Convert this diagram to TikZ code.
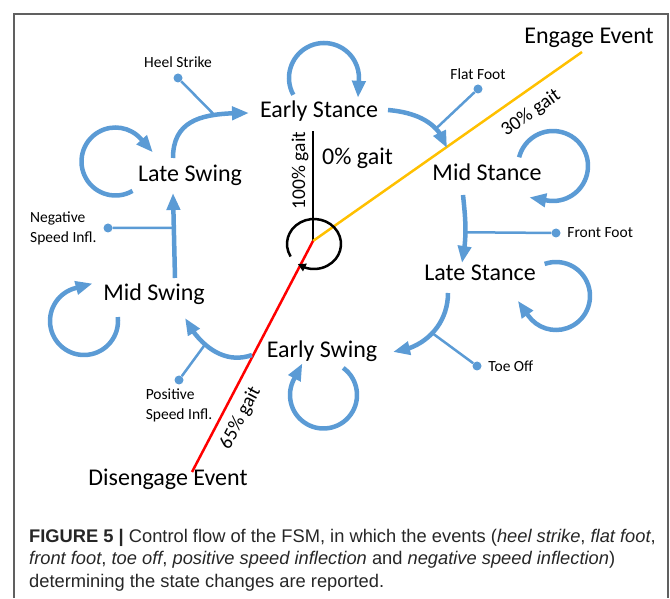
\documentclass[tikz,border=0pt]{standalone}
\usepackage{fontspec}
\setmainfont{Carlito}
\newfontfamily\captionfont{Liberation Sans}
\usetikzlibrary{arrows.meta,positioning,bending}
\definecolor{fsmblue}{HTML}{5B9BD5}
\definecolor{fsmyellow}{HTML}{FFC000}
\definecolor{fsmred}{HTML}{FF0000}
\definecolor{fsmframe}{HTML}{606060}
\definecolor{fsmcaption}{HTML}{262626}
\tikzset{
    state/.style={
        inner sep=0pt, anchor=base,
        font=\fontsize{24}{28}\selectfont
    },
    evlabel/.style={
        inner sep=2pt, align=left,
        font=\fontsize{15.5}{20}\selectfont
    },
    evdot/.style={circle, fill=fsmblue, inner sep=0pt, minimum size=9pt},
    evline/.style={draw=fsmblue, line width=2.5pt},
    trans/.style={draw=fsmblue, line width=4.5pt, -{Triangle[length=17pt,width=13pt]}},
    gaitline/.style={line width=2.5pt},
    gaitlabel/.style={sloped, text=black, font=\fontsize{19.5}{22}\selectfont},
    caption/.style={
        anchor=north west, inner sep=0pt, align=left, text=fsmcaption,
        font=\captionfont\fontsize{18.3}{22.5}\selectfont
    },
}

\begin{document}
\begin{tikzpicture}[x=1pt, y=1pt]
    \useasboundingbox (0,0) rectangle (670,598);

    % Frame
    \draw[fsmframe, line width=1.3pt] (14,0) -- (14,584) -- (668,584) -- (668,0);

    % States
    \node[state] (es)  at (319,480) {Early Stance};
    \node[state] (ms)  at (487,417) {Mid Stance};
    \node[state] (ls)  at (480,317) {Late Stance};
    \node[state] (esw) at (322,240) {Early Swing};
    \node[state] (msw) at (154,297) {Mid Swing};
    \node[state] (lsw) at (190,416) {Late Swing};

    % Gait cycle
    \coordinate (c) at (313,357);
    \coordinate (gtop) at (313,467);
    \coordinate (engage) at (582,546);
    \coordinate (disengage) at (192,126);
    \coordinate (gc) at (314,354);
    \draw[gaitline] (c) -- node[gaitlabel, above, pos=0.64] (g100) {100\% gait} (gtop);
    \draw[gaitline, fsmyellow] (c) -- node[gaitlabel, below=8pt, pos=0.766] (g30) {30\% gait} (engage);
    \draw[gaitline, fsmred] (disengage) -- node[gaitlabel, below=5pt, pos=0.27] (g65) {65\% gait} (c);
    \draw[gaitline, -{Triangle[length=8pt,width=8pt]}] ([shift={(210:27 and 25)}]gc)
        arc[start angle=210, end angle=-127, x radius=27, y radius=25];
    \node[state, anchor=base west] (g0) at (322,433) {0\% gait};
    \node[state] (engagelbl) at (589,554) {Engage Event};
    \node[state] (disengagelbl) at (168,113) {Disengage Event};

    % Transitions
    \draw[trans] ([shift={(-17,24)}]lsw.base) to[out=90, in=180, looseness=1.2]
        coordinate[pos=0.7] (hsjoin) ([shift={(-70,5)}]es.base);
    \draw[trans] ([shift={(69,8)}]es.base) to[out=-5, in=107]
        coordinate[pos=0.7] (ffjoin) ([shift={(-40,33)}]ms.base);
    \draw[trans] ([shift={(-24,-14)}]ms.base) to[out=-84, in=79]
        coordinate[pos=0.55] (frjoin) ([shift={(-18,18)}]ls.base);
    \draw[trans] ([shift={(-32,-12)}]ls.base) to[out=-90, in=6]
        coordinate[pos=0.5] (tojoin) ([shift={(71,6)}]esw.base);
    \draw[trans] ([shift={(-70,3)}]esw.base) to[out=200, in=-63]
        coordinate[pos=0.62] (psjoin) ([shift={(31,-17)}]msw.base);
    \draw[trans] ([shift={(21,23)}]msw.base) --
        coordinate[pos=0.59] (nsjoin) ([shift={(-17,-11)}]lsw.base);

    % Self loops
    \coordinate (esc) at ([shift={(5,40)}]es.base);
    \draw[trans] ([shift={(208.7:35)}]esc) arc[start angle=208.7, end angle=-3, radius=35] -- ++(-93:18);
    \coordinate (msc) at ([shift={(66,15)}]ms.base);
    \draw[trans] ([shift={(165.6:35)}]msc) arc[start angle=165.6, end angle=-100, radius=35] -- ++(170:18);
    \coordinate (lsc) at ([shift={(76,-15)}]ls.base);
    \draw[trans] ([shift={(109.5:34)}]lsc) arc[start angle=109.5, end angle=-145, radius=34] -- ++(125:18);
    \coordinate (eswc) at ([shift={(1.5,-37)}]esw.base);
    \draw[trans] ([shift={(54:33.5)}]eswc) arc[start angle=54, end angle=-208, radius=33.5] -- ++(62:18);
    \coordinate (mswc) at ([shift={(-70,-20)}]msw.base);
    \draw[trans] ([shift={(6.7:34)}]mswc) arc[start angle=6.7, end angle=-255, radius=34] -- ++(15:18);
    \coordinate (lswc) at ([shift={(-74.5,20.5)}]lsw.base);
    \draw[trans] ([shift={(-60:34)}]lswc) arc[start angle=-60, end angle=-318.4, radius=34] -- ++(-48.4:18);

    % Events
    \node[evdot] (heeldot) at (178,520) {};
    \node[evlabel, above=3pt of heeldot] (heel) {Heel Strike};
    \draw[evline] (heeldot) -- (hsjoin);

    \node[evdot] (flatdot) at (478,509) {};
    \node[evlabel, above=2pt of flatdot] (flat) {Flat Foot};
    \draw[evline] (flatdot) -- (ffjoin);

    \node[evdot] (frontdot) at (556,365) {};
    \node[evlabel, right=4.5pt of frontdot] (front) {Front Foot};
    \draw[evline] (frontdot) -- (frjoin);

    \node[evdot] (toedot) at (477,232) {};
    \node[evlabel, right=4.5pt of toedot] (toe) {Toe Off};
    \draw[evline] (toedot) -- (tojoin);

    \node[evdot] (posdot) at (179,218) {};
    \node[evlabel, below=2pt of posdot] (posinfl) {Positive\\Speed Infl.};
    \draw[evline] (posdot) -- (psjoin);

    \node[evdot] (negdot) at (108,370) {};
    \node[evlabel, left=4.5pt of negdot] (neginfl) {Negative\\Speed Infl.};
    \draw[evline] (negdot) -- (nsjoin);

    % Caption
    \node[caption] (cap) at (29,69) {\textbf{FIGURE 5 |} Control flow of the FSM, in which the events (\textit{heel strike}, \textit{flat foot},\\
        \textit{front foot}, \textit{toe off}, \textit{positive speed inflection} and \textit{negative speed inflection})\\
        determining the state changes are reported.};

\end{tikzpicture}
\end{document}
